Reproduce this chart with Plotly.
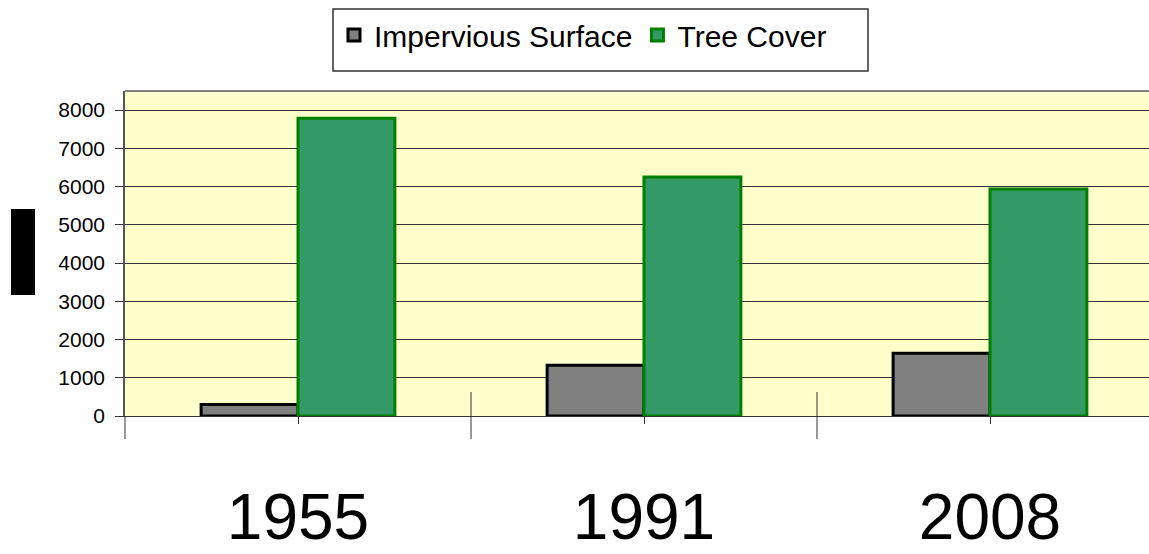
import plotly.graph_objects as go

years = ["1955", "1991", "2008"]
impervious = [300, 1330, 1640]
tree_cover = [7790, 6250, 5940]
y_ticks = [0, 1000, 2000, 3000, 4000, 5000, 6000, 7000, 8000]

x_pos = list(range(len(years)))

W, H = 1149, 554
L, R, T, B = 125, 0, 91, 138
PH = H - T - B
PW = W - L - R
cat_px = 346.0


def py(p):
    return (H - B - p) / PH


def px(p):
    return (p - L) / PW


fig = go.Figure()
fig.add_trace(go.Bar(
    name="Impervious Surface", x=x_pos, y=impervious,
    marker=dict(color="#808080", line=dict(color="#000000", width=3)),
))
fig.add_trace(go.Bar(
    name="Tree Cover", x=x_pos, y=tree_cover,
    marker=dict(color="#339966", line=dict(color="#008000", width=3)),
))

font_family = "Liberation Sans, Arial, sans-serif"

shapes = [
    # top border of plot area
    dict(type="line", xref="paper", yref="paper", x0=0, x1=1, y0=1, y1=1,
         line=dict(color="#808080", width=2)),
    # left axis extension below zero
    dict(type="line", xref="paper", yref="paper", x0=0, x1=0, y0=py(439), y1=0,
         line=dict(color="#333333", width=1)),
    # black block (redacted axis title)
    dict(type="rect", xref="paper", yref="paper", x0=px(11), x1=px(35),
         y0=py(295), y1=py(209), fillcolor="#000000", line=dict(width=0)),
    # legend frame
    dict(type="rect", xref="paper", yref="paper", x0=px(333), x1=px(868),
         y0=py(71), y1=py(9), line=dict(color="#333333", width=1.5)),
]
for b in [0.5, 1.5]:
    shapes.append(dict(type="line", xref="x", yref="paper", x0=b, x1=b,
                       y0=py(439), y1=py(392), line=dict(color="#333333", width=1)))

fig.update_layout(
    width=W, height=H, autosize=False,
    margin=dict(l=L, r=R, t=T, b=B, pad=0, autoexpand=False),
    paper_bgcolor="#ffffff", plot_bgcolor="#FFFFCC",
    barmode="group", bargap=0.44, bargroupgap=0,
    font=dict(family=font_family, color="#000000"),
    showlegend=True,
    legend=dict(orientation="h", x=px(334), xanchor="left", y=py(35), yanchor="middle",
                font=dict(size=30, family=font_family, color="#000000"),
                bgcolor="rgba(0,0,0,0)", traceorder="normal"),
    xaxis=dict(range=[-0.5, -0.5 + PW / cat_px], tickmode="array", tickvals=x_pos,
               ticktext=years, tickfont=dict(size=64, family=font_family),
               ticks="outside", ticklen=7, tickcolor="#333333", tickwidth=1,
               showline=True, linecolor="#333333", linewidth=1,
               showgrid=False, zeroline=False, ticklabelstandoff=38,
               automargin=False),
    yaxis=dict(range=[0, 8500], tickmode="array", tickvals=y_ticks,
               tickfont=dict(size=21, family=font_family),
               ticks="outside", ticklen=8, tickcolor="#333333",
               showgrid=True, gridcolor="#333333", gridwidth=1.3,
               showline=True, linecolor="#555555", linewidth=1.5,
               zeroline=False, automargin=False, ticklabelstandoff=6),
    shapes=shapes,
)

fig.write_html("out.html", config={"displayModeBar": False},
               post_script="document.body.style.margin='0';")
